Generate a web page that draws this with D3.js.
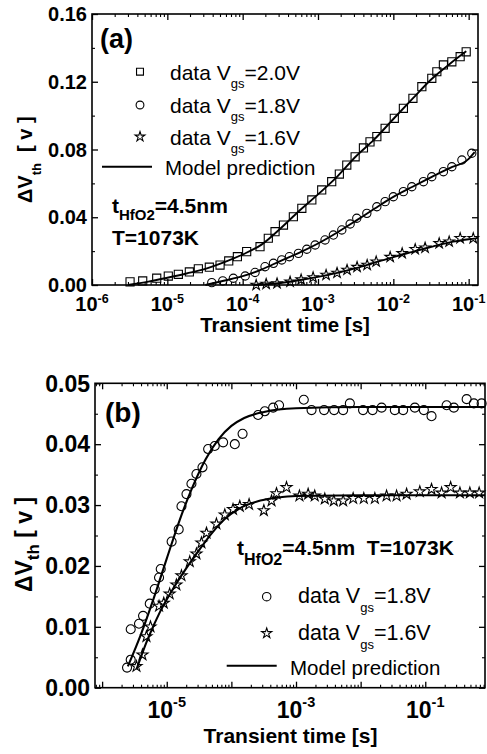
<!DOCTYPE html>
<html><head><meta charset="utf-8">
<script src="https://cdn.jsdelivr.net/npm/d3@7"></script>
<style>
body{margin:0;background:#fff}
svg{display:block}
text{font-family:"Liberation Sans",Arial,Helvetica,sans-serif;fill:#000}
</style>
</head><body>
<svg id="c" width="487" height="754"></svg>
<script>
// ---------------- Panel (a) data ----------------
const aYTicks = [0, 0.04, 0.08, 0.12, 0.16];
const aYTickLabels = ["0.00", "0.04", "0.08", "0.12", "0.16"];
const aYMinor = [0.02, 0.06, 0.10, 0.14];
const aXMajor = [1e-6, 1e-5, 1e-4, 1e-3, 1e-2, 1e-1];
const aXTickExps = ["-6", "-5", "-4", "-3", "-2", "-1"];

const aTime20 = [3.20e-6,4.71e-6,7.23e-6,1.03e-5,1.40e-5,1.96e-5,2.58e-5,3.61e-5,5.01e-5,6.53e-5,8.51e-5,1.13e-4,1.70e-4,2.19e-4,2.69e-4,3.48e-4,4.71e-4,6.10e-4,8.28e-4,1.12e-3,1.52e-3,1.92e-3,2.41e-3,3.11e-3,4.01e-3,4.90e-3,6.04e-3,7.78e-3,1.03e-2,1.36e-2,1.82e-2,2.39e-2,3.24e-2,3.78e-2,4.62e-2,5.98e-2,7.71e-2,9.27e-2];
const aDv20 = [0.0019,0.0024,0.0040,0.0053,0.0063,0.0077,0.0096,0.0105,0.0118,0.0142,0.0167,0.0197,0.0226,0.0276,0.0315,0.0354,0.0403,0.0453,0.0502,0.0561,0.0610,0.0655,0.0708,0.0757,0.0809,0.0845,0.0876,0.0925,0.0984,0.1043,0.1102,0.1171,0.1220,0.1259,0.1299,0.1318,0.1348,0.1377];

const aTime18 = [3.89e-5,5.44e-5,7.52e-5,1.08e-4,1.46e-4,1.98e-4,2.56e-4,3.30e-4,4.17e-4,5.50e-4,7.10e-4,9.16e-4,1.24e-3,1.60e-3,2.07e-3,2.67e-3,3.27e-3,4.45e-3,6.04e-3,7.78e-3,1.00e-2,1.36e-2,1.76e-2,2.51e-2,3.24e-2,4.62e-2,5.98e-2,8.13e-2,1.10e-1];
const aDv18 = [0.0014,0.0024,0.0040,0.0053,0.0074,0.0108,0.0128,0.0148,0.0167,0.0187,0.0211,0.0236,0.0266,0.0295,0.0325,0.0360,0.0394,0.0423,0.0462,0.0492,0.0521,0.0551,0.0580,0.0610,0.0639,0.0669,0.0698,0.0738,0.0778];

const aTime16 = [1.51e-4,2.05e-4,2.86e-4,4.26e-4,5.97e-4,8.61e-4,1.28e-3,1.79e-3,2.43e-3,3.30e-3,4.49e-3,5.92e-3,9.08e-3,1.31e-2,1.95e-2,2.64e-2,4.06e-2,5.51e-2,7.71e-2,1.15e-1];
const aDv16 = [0.0000,0.0006,0.0009,0.0019,0.0032,0.0045,0.0059,0.0071,0.0089,0.0106,0.0118,0.0138,0.0165,0.0187,0.0211,0.0220,0.0246,0.0256,0.0276,0.0276];

const aModelTime20 = [3.0e-6,5.6e-6,1.0e-5,1.8e-5,3.2e-5,5.6e-5,1.0e-4,1.8e-4,3.2e-4,5.6e-4,1.0e-3,1.8e-3,3.2e-3,5.6e-3,1.0e-2,1.8e-2,3.2e-2,5.6e-2,9.3e-2];
const aModelDv20 = [0.0000,0.0020,0.0043,0.0068,0.0095,0.0133,0.0180,0.0240,0.0335,0.0437,0.0535,0.0640,0.0760,0.0860,0.0980,0.1100,0.1215,0.1305,0.1380];
const aModelTime18 = [3.2e-5,5.6e-5,1.0e-4,1.8e-4,3.2e-4,5.6e-4,1.0e-3,1.8e-3,3.2e-3,5.6e-3,1.0e-2,1.8e-2,3.2e-2,5.6e-2,1.0e-1,1.2e-1];
const aModelDv18 = [0.0000,0.0025,0.0052,0.0092,0.0143,0.0190,0.0245,0.0310,0.0380,0.0450,0.0520,0.0580,0.0637,0.0690,0.0745,0.0785];
const aModelTime16 = [1.4e-4,3.2e-4,5.6e-4,1.0e-3,1.8e-3,3.2e-3,5.6e-3,1.0e-2,1.8e-2,3.2e-2,5.6e-2,1.0e-1,1.32e-1];
const aModelDv16 = [0.0000,0.0012,0.0028,0.0048,0.0072,0.0100,0.0132,0.0165,0.0196,0.0226,0.0252,0.0270,0.0277];

// ---------------- Panel (b) data ----------------
const bYTicks = [0, 0.01, 0.02, 0.03, 0.04, 0.05];
const bYTickLabels = ["0.00", "0.01", "0.02", "0.03", "0.04", "0.05"];
const bYMinor = [0.005, 0.015, 0.025, 0.035, 0.045];
const bXMajor = [1e-6, 1e-5, 1e-4, 1e-3, 1e-2, 1e-1];
const bXLabelled = [1e-5, 1e-3, 1e-1];
const bXTickExps = ["-5", "-3", "-1"];

const bTime18 = [2.43e-6,2.77e-6,2.77e-6,3.72e-6,4.30e-6,5.46e-6,6.52e-6,7.60e-6,8.07e-6,1.19e-5,1.53e-5,1.69e-5,2.02e-5,2.41e-5,2.88e-5,3.57e-5,4.37e-5,5.53e-5,7.45e-5,1.13e-4,1.49e-4,2.59e-4,3.29e-4,4.43e-4,5.47e-4,1.32e-3,1.74e-3,2.72e-3,3.89e-3,5.36e-3,6.81e-3,1.09e-2,1.53e-2,2.11e-2,3.38e-2,4.55e-2,6.90e-2,9.51e-2,0.125,0.214,0.277,0.437,0.565,0.745];
const bDv18 = [0.0033,0.0046,0.0096,0.0105,0.0118,0.0138,0.0162,0.0181,0.0195,0.0240,0.0260,0.0298,0.0318,0.0335,0.0351,0.0362,0.0392,0.0397,0.0403,0.0400,0.0417,0.0448,0.0454,0.0460,0.0464,0.0473,0.0456,0.0456,0.0456,0.0456,0.0467,0.0456,0.0456,0.0460,0.0456,0.0456,0.0460,0.0456,0.0446,0.0464,0.0460,0.0474,0.0467,0.0467];

const bTime16 = [3.40e-6,4.21e-6,4.85e-6,5.60e-6,7.60e-6,8.99e-6,1.11e-5,1.41e-5,1.69e-5,2.27e-5,2.88e-5,3.44e-5,4.12e-5,5.87e-5,7.91e-5,1.06e-4,1.35e-4,1.88e-4,3.18e-4,4.18e-4,4.99e-4,7.13e-4,1.13e-3,1.54e-3,1.95e-3,2.79e-3,3.85e-3,5.36e-3,7.66e-3,1.12e-2,1.66e-2,2.52e-2,3.60e-2,5.14e-2,8.24e-2,0.125,0.179,0.247,0.344,0.490,0.682];
const bDv16 = [0.0035,0.0054,0.0084,0.0100,0.0134,0.0139,0.0154,0.0169,0.0184,0.0207,0.0220,0.0238,0.0254,0.0269,0.0284,0.0293,0.0298,0.0301,0.0291,0.0307,0.0319,0.0329,0.0315,0.0318,0.0315,0.0310,0.0307,0.0307,0.0311,0.0311,0.0311,0.0315,0.0315,0.0318,0.0322,0.0326,0.0320,0.0329,0.0320,0.0320,0.0320];

const bModelTime18 = [2.5e-6,4.0e-6,6.3e-6,1.0e-5,1.58e-5,2.51e-5,3.98e-5,6.3e-5,1.0e-4,1.58e-4,3.2e-4,1.0e-3,1.0e-2,0.84];
const bModelDv18 = [0.0035,0.0088,0.0147,0.0212,0.0275,0.0330,0.0375,0.0408,0.0430,0.0443,0.0453,0.0459,0.0461,0.0461];
const bModelTime16 = [3.4e-6,5.0e-6,7.9e-6,1.26e-5,2.0e-5,3.16e-5,5.0e-5,7.9e-5,1.26e-4,2.5e-4,5.0e-4,1.0e-3,1.0e-2,0.84];
const bModelDv16 = [0.0030,0.0078,0.0125,0.0163,0.0196,0.0226,0.0254,0.0277,0.0293,0.0306,0.0312,0.0315,0.0316,0.0316];

// ---------------- drawing ----------------
const svg = d3.select("#c");
const zip = (a, b) => a.map((v, i) => [v, b[i]]);
const NB = "\u00A0";

function minorTicks(dom) {
  const out = [];
  const e0 = Math.floor(Math.log10(dom[0])), e1 = Math.ceil(Math.log10(dom[1]));
  for (let e = e0; e <= e1; e++) for (let k = 2; k <= 9; k++) {
    const v = k * Math.pow(10, e);
    if (v >= dom[0] && v <= dom[1]) out.push(v);
  }
  return out;
}

function drawPanel(c) {
  const g = svg.append("g");
  const x = d3.scaleLog().domain(c.xDomain).range([c.left, c.right]);
  const y = d3.scaleLinear().domain(c.yDomain).range([c.bottom, c.top]);
  const xMinor = minorTicks(c.xDomain);

  const axes = [
    [d3.axisBottom(x), `translate(0,${c.bottom})`, c.xMajor, xMinor],
    [d3.axisTop(x), `translate(0,${c.top})`, c.xMajor, xMinor],
    [d3.axisLeft(y), `translate(${c.left},0)`, c.yMajor, c.yMinor],
    [d3.axisRight(y), `translate(${c.right},0)`, c.yMajor, c.yMinor]
  ];
  axes.forEach(([ax, tr, maj, min]) => {
    const a1 = g.append("g").attr("transform", tr)
      .call(ax.tickValues(maj).tickSize(-6).tickFormat(""));
    a1.select(".domain").remove();
    a1.selectAll("line").attr("stroke", "#000").attr("stroke-width", 1.3);
    const a2 = g.append("g").attr("transform", tr)
      .call(ax.tickValues(min).tickSize(-3).tickFormat(""));
    a2.select(".domain").remove();
    a2.selectAll("line").attr("stroke", "#000").attr("stroke-width", 1.1);
  });

  g.append("rect").attr("x", c.left).attr("y", c.top)
    .attr("width", c.right - c.left).attr("height", c.bottom - c.top)
    .attr("fill", "none").attr("stroke", "#000").attr("stroke-width", 1.6);

  // y tick labels
  g.selectAll(null).data(c.yMajor).enter().append("text")
    .attr("x", c.yLabelX).attr("y", d => y(d)).attr("dy", "0.36em")
    .attr("text-anchor", "end").attr("font-weight", "bold")
    .attr("font-size", c.tickFont)
    .text((d, i) => c.yTickLabels[i]);

  // x tick labels
  c.xLabelled.forEach((v, i) => {
    const t = g.append("text").attr("x", x(v)).attr("y", c.xLabelBase)
      .attr("text-anchor", "middle").attr("font-weight", "bold")
      .attr("font-size", c.tickFont);
    t.append("tspan").text("10");
    t.append("tspan").attr("dy", c.supDy).attr("font-size", c.supFont).text(c.xExps[i]);
  });

  // model lines
  const line = d3.line().x(d => x(d[0])).y(d => y(d[1])).curve(d3.curveMonotoneX);
  c.models.forEach(m => {
    g.append("path").datum(m).attr("d", line)
      .attr("fill", "none").attr("stroke", "#000").attr("stroke-width", c.lineW);
  });

  // data symbols
  c.series.forEach(s => {
    const sym = d3.symbol().type(s.type).size(s.size);
    g.selectAll(null).data(s.data).enter().append("path")
      .attr("transform", d => `translate(${x(d[0])},${y(d[1])})`)
      .attr("d", sym).attr("fill", "none").attr("stroke", "#000").attr("stroke-width", 1.1);
  });
  return g;
}

// Panel (a)
drawPanel({
  left: 92, right: 478, top: 14, bottom: 285,
  xDomain: [1e-6, 0.133], yDomain: [0, 0.16],
  xMajor: aXMajor, xLabelled: aXMajor, xExps: aXTickExps,
  yMajor: aYTicks, yMinor: aYMinor, yTickLabels: aYTickLabels,
  yLabelX: 87, xLabelBase: 311, tickFont: 20, supFont: 12.5, supDy: -8,
  lineW: 1.9,
  models: [zip(aModelTime20, aModelDv20), zip(aModelTime18, aModelDv18), zip(aModelTime16, aModelDv16)],
  series: [
    {type: d3.symbolSquare, size: 66, data: zip(aTime20, aDv20)},
    {type: d3.symbolCircle, size: 54, data: zip(aTime18, aDv18)},
    {type: d3.symbolStar, size: 34, data: zip(aTime16, aDv16)}
  ]
});

// Panel (b)
drawPanel({
  left: 95, right: 485, top: 383.3, bottom: 687.7,
  xDomain: [7.76e-7, 0.84], yDomain: [0, 0.05],
  xMajor: bXMajor, xLabelled: bXLabelled, xExps: bXTickExps,
  yMajor: bYTicks, yMinor: bYMinor, yTickLabels: bYTickLabels,
  yLabelX: 90, xLabelBase: 717.5, tickFont: 23, supFont: 14.5, supDy: -11,
  lineW: 2.1,
  models: [zip(bModelTime18, bModelDv18), zip(bModelTime16, bModelDv16)],
  series: [
    {type: d3.symbolCircle, size: 64, data: zip(bTime18, bDv18)},
    {type: d3.symbolStar, size: 38, data: zip(bTime16, bDv16)}
  ]
});

// ---------- annotations ----------
function legendRow(xSym, ySym, type, size, xTxt, base, label, val, fMain, fSub, subDy) {
  svg.append("path").attr("transform", `translate(${xSym},${ySym})`)
    .attr("d", d3.symbol().type(type).size(size)())
    .attr("fill", "none").attr("stroke", "#000").attr("stroke-width", 1.1);
  const t = svg.append("text").attr("x", xTxt).attr("y", base).attr("font-size", fMain);
  t.append("tspan").text(label);
  t.append("tspan").attr("dy", subDy).attr("font-size", fSub).text("gs");
  t.append("tspan").attr("dy", -subDy).attr("font-size", fMain).text(val);
}

// panel (a)
svg.append("text").attr("x", 100).attr("y", 48).attr("font-size", 27).attr("font-weight", "bold").text("(a)");
legendRow(140, 71.7, d3.symbolSquare, 48, 170, 80, "data" + NB + "V", "=2.0V", 21, 13, 8);
legendRow(140, 105, d3.symbolCircle, 48, 170, 113, "data" + NB + "V", "=1.8V", 21, 13, 8);
legendRow(140, 136.7, d3.symbolStar, 30, 170, 144.7, "data" + NB + "V", "=1.6V", 21, 13, 8);
svg.append("line").attr("x1", 102).attr("x2", 152).attr("y1", 166.7).attr("y2", 166.7)
  .attr("stroke", "#000").attr("stroke-width", 1.9);
svg.append("text").attr("x", 165).attr("y", 175).attr("font-size", 20.5).text("Model prediction");
{
  const t = svg.append("text").attr("x", 112).attr("y", 213).attr("font-size", 21).attr("font-weight", "bold");
  t.append("tspan").text("t");
  t.append("tspan").attr("dy", 7).attr("font-size", 15).text("HfO2");
  t.append("tspan").attr("dy", -7).attr("font-size", 21).text("=4.5nm");
  svg.append("text").attr("x", 112).attr("y", 245).attr("font-size", 21).attr("font-weight", "bold").text("T=1073K");
}
{
  const t = svg.append("text").attr("transform", "translate(32,203) rotate(-90)")
    .attr("font-size", 20).attr("font-weight", "bold");
  t.append("tspan").text("ΔV");
  t.append("tspan").attr("dy", 9).attr("font-size", 13).text("th");
  t.append("tspan").attr("dy", -9).attr("font-size", 20).text(NB + NB + "[" + NB + "v" + NB + "]");
}
svg.append("text").attr("x", 285).attr("y", 332).attr("text-anchor", "middle")
  .attr("font-size", 20.5).attr("font-weight", "bold").text("Transient time [s]");

// panel (b)
svg.append("text").attr("x", 105).attr("y", 422).attr("font-size", 28).attr("font-weight", "bold").text("(b)");
{
  const t = svg.append("text").attr("x", 237).attr("y", 555).attr("font-size", 21).attr("font-weight", "bold");
  t.append("tspan").text("t");
  t.append("tspan").attr("dy", 10).attr("font-size", 16).text("HfO2");
  t.append("tspan").attr("dy", -10).attr("font-size", 21).text("=4.5nm" + NB + NB + "T=1073K");
}
legendRow(266.7, 596.7, d3.symbolCircle, 56, 298, 603, "data" + NB + "V", "=1.8V", 21.5, 13, 8.5);
legendRow(266.7, 633.3, d3.symbolStar, 32, 298, 640, "data" + NB + "V", "=1.6V", 21.5, 13, 8.5);
svg.append("line").attr("x1", 226.7).attr("x2", 276.7).attr("y1", 665.7).attr("y2", 665.7)
  .attr("stroke", "#000").attr("stroke-width", 2.1);
svg.append("text").attr("x", 290).attr("y", 675).attr("font-size", 20.5).text("Model prediction");
{
  const t = svg.append("text").attr("transform", "translate(31.7,592) rotate(-90)")
    .attr("font-size", 23).attr("font-weight", "bold");
  t.append("tspan").text("ΔV");
  t.append("tspan").attr("dy", 7).attr("font-size", 17).text("th");
  t.append("tspan").attr("dy", -7).attr("font-size", 23).text(NB + "[" + NB + "v" + NB + "]");
}
svg.append("text").attr("x", 290.5).attr("y", 743).attr("text-anchor", "middle")
  .attr("font-size", 21).attr("font-weight", "bold").text("Transient time [s]");
</script>
</body></html>
